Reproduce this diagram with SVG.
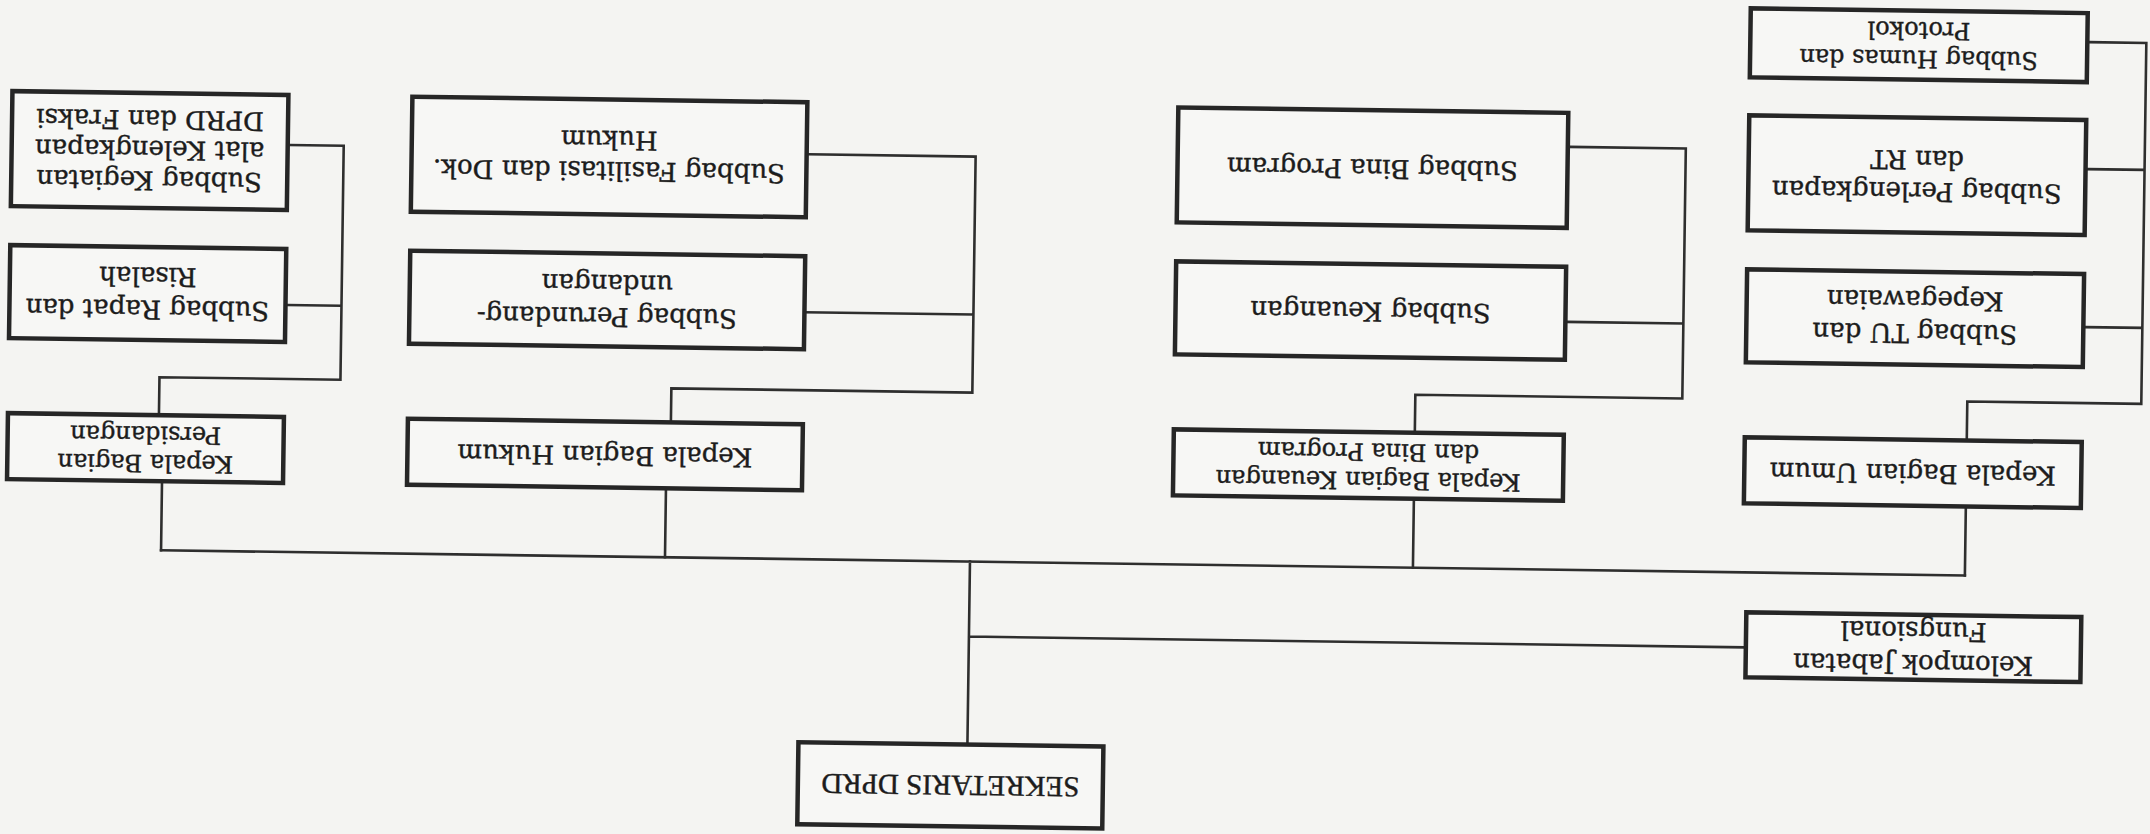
<svg xmlns="http://www.w3.org/2000/svg" width="2150" height="834" viewBox="0 0 2150 834">
<style>
.box{fill:#f7f7f5;stroke:#262626;stroke-width:4.5}
.lbl{font-family:"DejaVu Serif","Liberation Serif",serif;font-size:26px;fill:#1c1c1c;stroke:#1c1c1c;stroke-width:0.4;text-anchor:middle}
.sm{font-size:24px}
.sek{font-family:"Liberation Serif",serif;font-size:29px}
.con{fill:none;stroke:#2e2e2e;stroke-width:2.6;stroke-linecap:square}
</style>
<rect width="2150" height="834" fill="#f4f4f2"/>
<g transform="rotate(0.8 1075 417)">
<g id="connectors" class="con">
<path d="M286 156 H340 V390 H159 V426 M286 316 H340 M163 496 V563"/>
<path d="M805 158 H972 V394 H671 V426 M803 316 H972 M667 496 V563"/>
<path d="M1566 140 H1682 V390 H1415 V426 M1566 315 H1682 M1415 496 V563"/>
<path d="M2084 28 H2141 V389 H1967 V426 M2084 155 H2141 M2084 313 H2141 M1967 496 V563"/>
<path d="M163 563 H1967 M972 563 V746 M972 638 H1747"/>
</g>
<g id="subbag-kegiatan">
<rect class="box" x="8" y="106" width="276" height="115"/>
<text class="lbl" transform="rotate(180 146 163.5)"><tspan x="146" y="142.5">Subbag Kegiatan</tspan><tspan x="146" y="173">alat Kelengkapan</tspan><tspan x="146" y="203.5">DPRD dan Fraksi</tspan></text>
</g>
<g id="subbag-rapat">
<rect class="box" x="8" y="260" width="276" height="93"/>
<text class="lbl" transform="rotate(180 146 306.5)"><tspan x="146" y="299.5">Subbag Rapat dan</tspan><tspan x="146" y="332.5">Risalah</tspan></text>
</g>
<g id="kabag-persidangan">
<rect class="box" x="8" y="428" width="276" height="66"/>
<text class="lbl sm" transform="rotate(180 146 461)"><tspan x="146" y="454">Kepala Bagian</tspan><tspan x="146" y="482.5">Persidangan</tspan></text>
</g>
<g id="subbag-fasilitasi">
<rect class="box" x="408" y="106" width="395" height="115"/>
<text class="lbl" transform="rotate(180 605.5 163.5)"><tspan x="605.5" y="158.5">Subbag Fasilitasi dan Dok.</tspan><tspan x="605.5" y="189.5">Hukum</tspan></text>
</g>
<g id="subbag-perundangan">
<rect class="box" x="408" y="260" width="395" height="93"/>
<text class="lbl" transform="rotate(180 605.5 306.5)"><tspan x="605.5" y="298.5">Subbag Perundang-</tspan><tspan x="605.5" y="331.5">undangan</tspan></text>
</g>
<g id="kabag-hukum">
<rect class="box" x="408" y="428" width="395" height="66"/>
<text class="lbl" transform="rotate(180 605.5 461)"><tspan x="605.5" y="469">Kepala Bagian Hukum</tspan></text>
</g>
<g id="subbag-bina-program">
<rect class="box" x="1174" y="106" width="390" height="115"/>
<text class="lbl" transform="rotate(180 1369 163.5)"><tspan x="1369" y="171.5">Subbag Bina Program</tspan></text>
</g>
<g id="subbag-keuangan">
<rect class="box" x="1174" y="260" width="390" height="93"/>
<text class="lbl" transform="rotate(180 1369 306.5)"><tspan x="1369" y="314.5">Subbag Keuangan</tspan></text>
</g>
<g id="kabag-keuangan">
<rect class="box" x="1174" y="428" width="390" height="66"/>
<text class="lbl sm" transform="rotate(180 1369 461)"><tspan x="1369" y="454">Kepala Bagian Keuangan</tspan><tspan x="1369" y="482.5">dan Bina Program</tspan></text>
</g>
<g id="subbag-humas">
<rect class="box" x="1745" y="-1" width="337" height="69"/>
<text class="lbl sm" transform="rotate(180 1913.5 33.5)"><tspan x="1913.5" y="28">Subbag Humas dan</tspan><tspan x="1913.5" y="56.5">Protokol</tspan></text>
</g>
<g id="subbag-perlengkapan">
<rect class="box" x="1745" y="106" width="337" height="115"/>
<text class="lbl" transform="rotate(180 1913.5 163.5)"><tspan x="1913.5" y="156">Subbag Perlengkapan</tspan><tspan x="1913.5" y="188">dan RT</tspan></text>
</g>
<g id="subbag-tu">
<rect class="box" x="1745" y="260" width="337" height="93"/>
<text class="lbl" transform="rotate(180 1913.5 306.5)"><tspan x="1913.5" y="300.5">Subbag TU dan</tspan><tspan x="1913.5" y="333.5">Kepegawaian</tspan></text>
</g>
<g id="kabag-umum">
<rect class="box" x="1745" y="428" width="337" height="66"/>
<text class="lbl" transform="rotate(180 1913.5 461)"><tspan x="1913.5" y="469">Kepala Bagian Umum</tspan></text>
</g>
<g id="kelompok-fungsional">
<rect class="box" x="1749" y="603" width="335" height="65"/>
<text class="lbl" transform="rotate(180 1916.5 635.5)"><tspan x="1916.5" y="627.5">Kelompok Jabatan</tspan><tspan x="1916.5" y="660.5">Fungsional</tspan></text>
</g>
<g id="sekretaris-dprd">
<rect class="box" x="803" y="746" width="305" height="82"/>
<text class="lbl sek" transform="rotate(180 955.5 787)"><tspan x="955.5" y="796.5">SEKRETARIS DPRD</tspan></text>
</g>
</g>
</svg>
